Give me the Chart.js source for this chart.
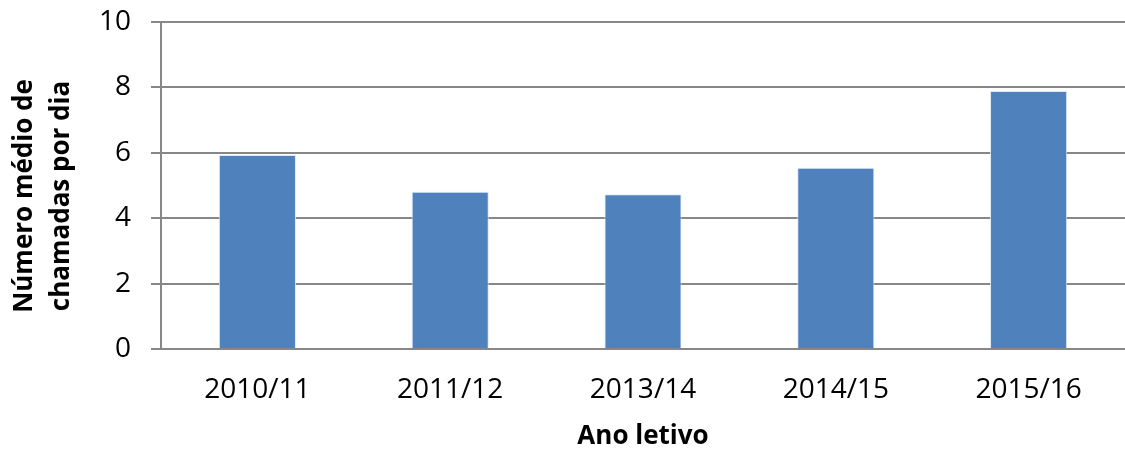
<!DOCTYPE html>
<html lang="pt">
<head>
<meta charset="utf-8">
<title>Número médio de chamadas por dia</title>
<script src="https://cdn.jsdelivr.net/npm/chart.js@4/dist/chart.umd.min.js"></script>
<style>
  html, body { margin: 0; padding: 0; background: #fff; }
  #wrap { width: 1125px; height: 450px; position: relative; }
</style>
</head>
<body>
<div id="wrap"><canvas id="grafico"></canvas></div>
<script>
/* ---- dados ---- */
const anos = ['2010/11', '2011/12', '2013/14', '2014/15', '2015/16'];
const mediaChamadas = [5.93, 4.81, 4.73, 5.54, 7.89];
const tituloY = ['Número médio de', 'chamadas por dia'];
const tituloX = 'Ano letivo';

const FONTE = "'Open Sans', sans-serif";
const CINZA = '#878787';

/* título do eixo Y em duas linhas, rodado */
const tituloEixoY = {
  id: 'tituloEixoY',
  afterDraw(chart) {
    const ctx = chart.ctx;
    const meio = 196;
    ctx.save();
    ctx.fillStyle = '#000';
    ctx.font = 'bold 26px ' + FONTE;
    ctx.textAlign = 'center';
    ctx.textBaseline = 'middle';
    [25, 62].forEach((x, i) => {
      ctx.save();
      ctx.translate(x, meio);
      ctx.rotate(-Math.PI / 2);
      ctx.fillText(tituloY[i], 0, 0);
      ctx.restore();
    });
    ctx.restore();
  }
};

Chart.defaults.font.family = FONTE;
Chart.defaults.color = '#000';

new Chart(document.getElementById('grafico'), {
  type: 'bar',
  data: {
    labels: anos,
    datasets: [{
      data: mediaChamadas,
      backgroundColor: '#4F81BD',
      borderColor: 'rgba(220,230,245,0.9)',
      borderWidth: 1,
      categoryPercentage: 1,
      barPercentage: 0.4
    }]
  },
  options: {
    responsive: true,
    maintainAspectRatio: false,
    animation: false,
    layout: { padding: { top: 22, right: 0, bottom: 0, left: 0 } },
    plugins: { legend: { display: false }, tooltip: { enabled: false } },
    scales: {
      x: {
        grid: { display: false, drawTicks: false },
        border: { display: false },
        ticks: { font: { size: 28 }, padding: 24, maxRotation: 0 },
        title: {
          display: true, text: tituloX,
          font: { size: 26, weight: 'bold', lineHeight: 1 },
          padding: { top: 0, bottom: 0 }
        },
        afterFit: s => { s.height = 101; s.paddingLeft = 0; s.paddingRight = 0; }
      },
      y: {
        min: 0, max: 10,
        ticks: { stepSize: 2, font: { size: 28 }, padding: 20 },
        grid: { color: CINZA, lineWidth: 2, tickLength: 10 },
        border: { color: CINZA, width: 2 },
        afterFit: s => { s.width = 161; s.paddingTop = 0; s.paddingBottom = 0; }
      }
    }
  },
  plugins: [tituloEixoY]
});
</script>
</body>
</html>
